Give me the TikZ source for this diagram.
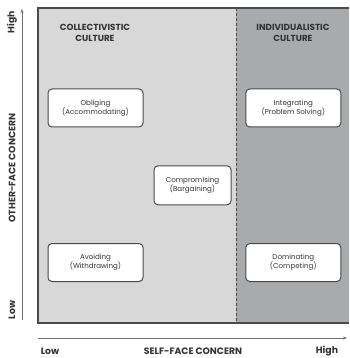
\documentclass[tikz,border=0pt]{standalone}
\usepackage{fontspec}
\setmainfont{Poppins}
\usetikzlibrary{arrows.meta}
\definecolor{lightreg}{HTML}{D8D8D9}
\definecolor{darkreg}{HTML}{A9AAAC}
\definecolor{edgegray}{HTML}{4A4A4A}
\definecolor{axisgray}{HTML}{6E6E6E}
\definecolor{txtgray}{HTML}{333333}
\tikzset{
  stylebox/.style={draw=edgegray, line width=1pt, fill=white, rounded corners=4pt,
    minimum width=95pt, minimum height=38pt, align=center, font=\fontsize{7.1}{9}\selectfont, text=txtgray, inner sep=0pt},
  culture/.style={align=center, font=\bfseries\fontsize{8.8}{11.5}\selectfont, text=txtgray},
  axislab/.style={font=\bfseries\fontsize{9.3}{10}\selectfont, text=txtgray},
  axisline/.style={draw=axisgray, line width=0.8pt, -{Stealth[length=4pt,width=3pt]}}
}
\begin{document}
\begin{tikzpicture}[x=1pt,y=-1pt]
\useasboundingbox (0,0) rectangle (349,358);
% regions
\fill[lightreg] (38,8) rectangle (236,323);
\fill[darkreg] (236,8) rectangle (349,323);
\draw[edgegray, line width=1.2pt] (349,8) -- (38,8) -- (38,323) -- (349,323);
\draw[edgegray, line width=0.8pt, dash pattern=on 3pt off 2pt] (236,8) -- (236,323);
% culture labels
\node[culture] (coll) at (95,33) {COLLECTIVISTIC\\CULTURE};
\node[culture] (indi) at (293,33) {INDIVIDUALISTIC\\CULTURE};
% boxes
\node[stylebox] (obl) at (95.5,108) {Obliging\\(Accommodating)};
\node[stylebox] (intg) at (293.3,108) {Integrating\\(Problem Solving)};
\node[stylebox, minimum width=77pt, minimum height=39pt] (comp) at (192.5,185.3) {Compromising\\(Bargaining)};
\node[stylebox] (avo) at (95.5,262.5) {Avoiding\\(Withdrawing)};
\node[stylebox] (dom) at (293.3,262.5) {Dominating\\(Competing)};
% axes
\coordinate (ybot) at (22,320);
\coordinate (ytop) at (22,9);
\coordinate (xl) at (38,338);
\coordinate (xr) at (347,338);
\draw[axisline] (ybot) -- (ytop);
\draw[axisline] (xl) -- (xr);
% axis labels
\node[axislab, rotate=90] (yhigh) at (12,22) {High};
\node[axislab, rotate=90] (ylow) at (12,310) {Low};
\node[axislab, rotate=90] (ytitle) at (12,168) {OTHER-FACE CONCERN};
\node[axislab] (xlow) at (50,351.5) {Low};
\node[axislab] (xtitle) at (193,351.5) {SELF-FACE CONCERN};
\node[axislab] (xhigh) at (327,351.5) {High};
\end{tikzpicture}
\end{document}
